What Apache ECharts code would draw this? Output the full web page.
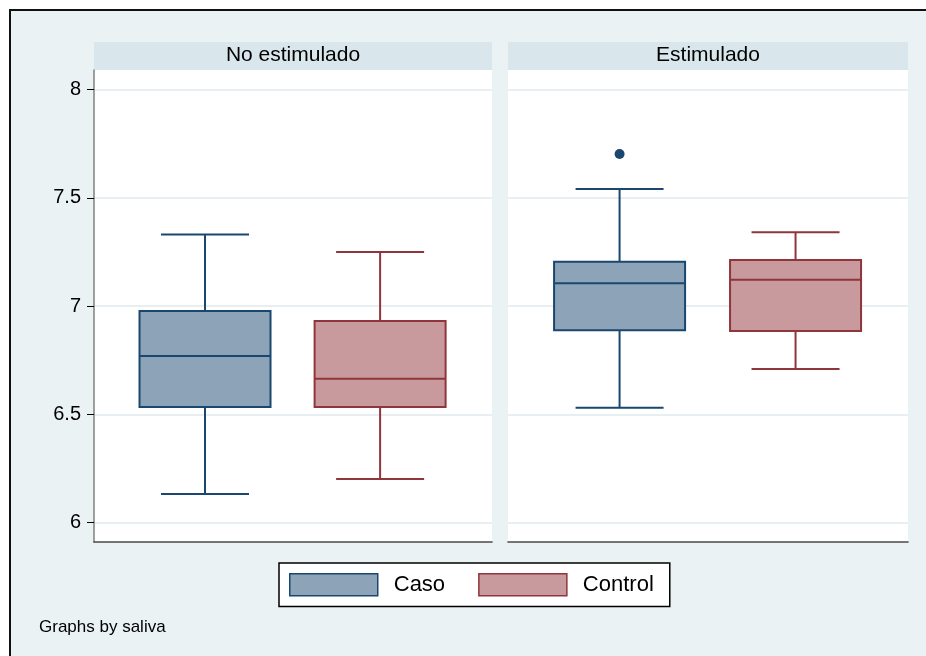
<!DOCTYPE html>
<html>
<head>
<meta charset="utf-8">
<title>Boxplot por saliva</title>
<script src="https://cdn.jsdelivr.net/npm/echarts@6/dist/echarts.min.js"></script>
<style>
  html, body { margin: 0; padding: 0; background: #fff; }
  #chart { width: 926px; height: 656px; }
</style>
</head>
<body>
<div id="chart"></div>
<script>
// Panels (one per saliva condition) and the two groups compared in each
const panels = ['No estimulado', 'Estimulado'];
const groups = ['Caso', 'Control'];

// Box summaries: [lower whisker, Q1, median, Q3, upper whisker]
const casoNoEstimulado    = [6.133, 6.534, 6.770, 6.977, 7.331];
const controlNoEstimulado = [6.202, 6.534, 6.665, 6.931, 7.250];
const casoEstimulado      = [6.531, 6.888, 7.105, 7.205, 7.541];
const controlEstimulado   = [6.710, 6.885, 7.122, 7.213, 7.341];

// Outside values
const casoEstimuladoOutliers = [7.702];

// Y axis tick values
const yTicks = [6, 6.5, 7, 7.5, 8];

// ---- styling ----
const FONT = "'Liberation Sans', Arial, sans-serif";
const BG = '#eaf2f3';
const STRIP = '#d9e6eb';
const GRID_LINE = '#e8eff2';
const colors = {
  Caso:    { fill: '#8ca3b8', stroke: '#1a476f' },
  Control: { fill: '#c89a9d', stroke: '#90353b' }
};
const BOX_W = 131;   // box width in px
const CAP_W = 88;    // whisker cap width in px
const LINE_W = 2;

const Y_MIN = 5.911, Y_MAX = 8.090;
const X_MIN = -0.634, X_MAX = 1.639;

const gridRects = [
  { left: 94, top: 70, width: 398, height: 472 },
  { left: 508, top: 70, width: 400, height: 472 }
];

function renderBox(params, api) {
  const x = api.value(0);
  const lo = api.coord([x, api.value(1)]);
  const q1 = api.coord([x, api.value(2)]);
  const md = api.coord([x, api.value(3)]);
  const q3 = api.coord([x, api.value(4)]);
  const hi = api.coord([x, api.value(5)]);
  const cx = lo[0];
  const c = colors[params.seriesName];
  const ln = { stroke: c.stroke, lineWidth: LINE_W };
  return {
    type: 'group',
    children: [
      { type: 'line', shape: { x1: cx, y1: hi[1], x2: cx, y2: q3[1] }, style: ln },
      { type: 'line', shape: { x1: cx, y1: q1[1], x2: cx, y2: lo[1] }, style: ln },
      { type: 'line', shape: { x1: cx - CAP_W / 2, y1: hi[1], x2: cx + CAP_W / 2, y2: hi[1] }, style: ln },
      { type: 'line', shape: { x1: cx - CAP_W / 2, y1: lo[1], x2: cx + CAP_W / 2, y2: lo[1] }, style: ln },
      { type: 'rect', shape: { x: cx - BOX_W / 2, y: q3[1], width: BOX_W, height: q1[1] - q3[1] },
        style: { fill: c.fill, stroke: c.stroke, lineWidth: LINE_W } },
      { type: 'line', shape: { x1: cx - BOX_W / 2, y1: md[1], x2: cx + BOX_W / 2, y2: md[1] }, style: ln }
    ]
  };
}

function boxSeries(name, panelIndex, values) {
  return {
    type: 'custom',
    name: name,
    xAxisIndex: panelIndex,
    yAxisIndex: panelIndex,
    renderItem: renderBox,
    encode: { x: 0, y: [1, 2, 3, 4, 5] },
    itemStyle: { color: colors[name].fill, borderColor: colors[name].stroke },
    data: [[groups.indexOf(name)].concat(values)],
    z: 3
  };
}

const chart = echarts.init(document.getElementById('chart'), null, { renderer: 'canvas' });

const xAxes = gridRects.map((g, i) => ({
  type: 'value',
  gridIndex: i,
  min: X_MIN,
  max: X_MAX,
  axisLine: { show: true, lineStyle: { color: '#4a4a4a', width: 1.6 } },
  axisTick: { show: false },
  axisLabel: { show: false },
  splitLine: { show: false }
}));

const yAxes = gridRects.map((g, i) => ({
  type: 'value',
  gridIndex: i,
  min: Y_MIN,
  max: Y_MAX,
  axisLine: { show: i === 0, onZero: false, lineStyle: { color: '#808080', width: 1.5 } },
  axisTick: { show: i === 0, length: 7, customValues: yTicks, lineStyle: { color: '#000', width: 1 } },
  axisLabel: {
    show: i === 0, customValues: yTicks, margin: 13,
    fontFamily: FONT, fontSize: 20, color: '#000'
  },
  splitLine: { show: true, lineStyle: { color: GRID_LINE, width: 1.8 } }
}));

const graphics = [
  // outer frame: white margin with a dark rule on the top and left sides
  { type: 'rect', shape: { x: 0, y: 0, width: 926, height: 9 }, style: { fill: '#fff' }, silent: true },
  { type: 'rect', shape: { x: 0, y: 0, width: 9, height: 656 }, style: { fill: '#fff' }, silent: true },
  { type: 'line', shape: { x1: 9, y1: 10, x2: 926, y2: 10 }, style: { stroke: '#111', lineWidth: 2 }, silent: true },
  { type: 'line', shape: { x1: 10, y1: 9, x2: 10, y2: 656 }, style: { stroke: '#111', lineWidth: 2 }, silent: true },
  // footnote
  { type: 'text', x: 39, y: 627,
    style: { text: 'Graphs by saliva', fill: '#000', font: '17px ' + FONT, textVerticalAlign: 'middle' } }
];
// panel header strips
panels.forEach((p, i) => {
  const g = gridRects[i];
  graphics.push({ type: 'rect', shape: { x: g.left, y: 42, width: g.width, height: 28 },
    style: { fill: STRIP }, silent: true });
  graphics.push({ type: 'text', x: g.left + g.width / 2, y: 55,
    style: { text: p, fill: '#000', font: '21px ' + FONT, textAlign: 'center', textVerticalAlign: 'middle' } });
});

const option = {
  backgroundColor: BG,
  animation: false,
  grid: gridRects.map(g => Object.assign({
    show: true, backgroundColor: '#fff', borderWidth: 0, containLabel: false
  }, g)),
  xAxis: xAxes,
  yAxis: yAxes,
  legend: {
    left: 279,
    top: 563,
    orient: 'horizontal',
    backgroundColor: '#fff',
    borderColor: '#000',
    borderWidth: 1.5,
    padding: [10, 16, 10, 10],
    itemWidth: 88,
    itemHeight: 22,
    itemGap: 33,
    selectedMode: false,
    textStyle: { fontFamily: FONT, fontSize: 22, color: '#000', padding: [5, 0, 0, 11] },
    data: groups.map(name => ({
      name: name,
      icon: 'rect',
      itemStyle: { color: colors[name].fill, borderColor: colors[name].stroke, borderWidth: 1.5 }
    }))
  },
  graphic: { elements: graphics },
  series: [
    boxSeries('Caso', 0, casoNoEstimulado),
    boxSeries('Control', 0, controlNoEstimulado),
    boxSeries('Caso', 1, casoEstimulado),
    boxSeries('Control', 1, controlEstimulado),
    {
      type: 'scatter',
      name: 'Caso',
      xAxisIndex: 1,
      yAxisIndex: 1,
      symbol: 'circle',
      symbolSize: 10,
      itemStyle: { color: colors.Caso.stroke, opacity: 1 },
      emphasis: { disabled: true },
      data: casoEstimuladoOutliers.map(v => [groups.indexOf('Caso'), v]),
      z: 4
    }
  ]
};

chart.setOption(option);
</script>
</body>
</html>
